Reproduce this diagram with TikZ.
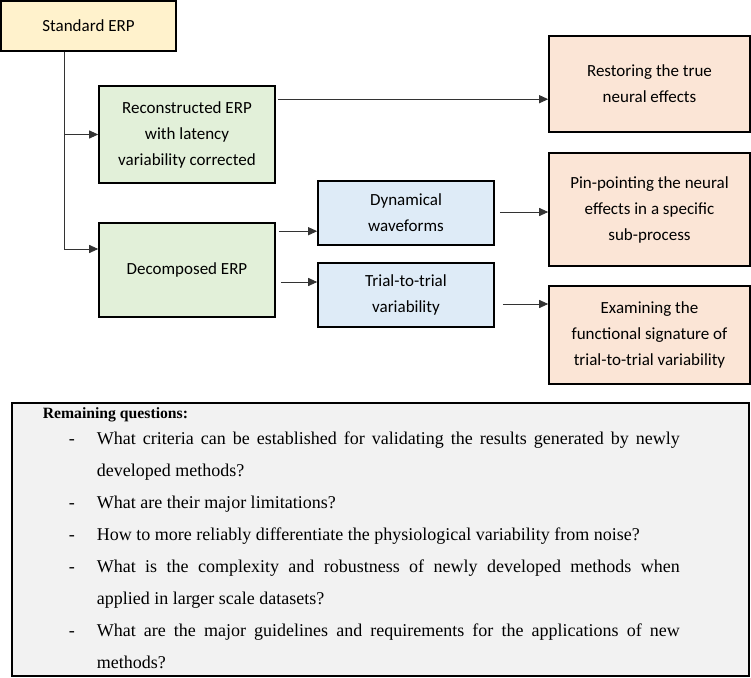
\documentclass[tikz,border=0pt]{standalone}
\usepackage{fontspec}
\setmainfont{Liberation Serif}
\newfontfamily\boxfont{Carlito}
\usetikzlibrary{arrows.meta}
\definecolor{stdfill}{HTML}{FFF2CC}
\definecolor{grnfill}{HTML}{E2F0D9}
\definecolor{blufill}{HTML}{DEEBF7}
\definecolor{orgfill}{HTML}{FBE5D6}
\definecolor{qfill}{HTML}{F2F2F2}
\newcommand{\qitem}[1]{\par\hangindent=54pt\hangafter=1\noindent\hspace*{26pt}\makebox[28pt][l]{-}#1}

\begin{document}
\begin{tikzpicture}[x=1pt, y=-1pt, every node/.style={draw, line width=1.6pt, align=center, inner sep=0pt, font=\boxfont\fontsize{17}{26}\selectfont},
    arr/.style={-{Triangle[length=9pt,width=8pt]}, line width=0.9pt, draw=black!80}]
        \useasboundingbox (0,0) rectangle (751,677);

        \node[fill=stdfill, minimum width=175, minimum height=50] (std) at (88.5,26) {Standard ERP};

        \node[fill=grnfill, minimum width=176, minimum height=97] (rec) at (187,134.5) {Reconstructed ERP\\with latency\\variability corrected};
        \node[fill=grnfill, minimum width=176, minimum height=94] (dec) at (187,270) {Decomposed ERP};

        \node[fill=blufill, minimum width=176, minimum height=64] (dyn) at (406,213) {Dynamical\\waveforms};
        \node[fill=blufill, minimum width=176, minimum height=64] (ttv) at (406,295) {Trial-to-trial\\variability};

        \node[fill=orgfill, minimum width=201, minimum height=96] (res) at (649.5,84) {Restoring the true\\neural effects};
        \node[fill=orgfill, minimum width=201, minimum height=113] (pin) at (649.5,209.5) {Pin-pointing the neural\\effects in a specific\\sub-process};
        \node[fill=orgfill, minimum width=201, minimum height=98] (exa) at (649.5,335) {Examining the\\functional signature of\\trial-to-trial variability};

        \node[fill=qfill, line width=1.3pt, minimum width=737, minimum height=273] (rq) at (380.5,539.5) {};
        \node[draw=none, anchor=base west, align=left, font=\fontsize{18}{31.9}\selectfont] (rqt) at (42,418) {\parbox[t]{637pt}{%
            \hyphenpenalty=10000 \exhyphenpenalty=10000
            {\fontsize{15.7}{27}\bfseries Remaining questions:}\par\vspace{-5pt}
            \qitem{What criteria can be established for validating the results generated by newly\linebreak developed methods?}
            \qitem{What are their major limitations?}
            \qitem{How to more reliably differentiate the physiological variability from noise?}
            \qitem{What is the complexity and robustness of newly developed methods when\linebreak applied in larger scale datasets?}
            \qitem{What are the major guidelines and requirements for the applications of new\linebreak methods?}}};

        \coordinate (tk) at (64,249);
        \draw[arr] (std.south -| tk) |- (rec.west);
        \draw[arr] (std.south -| tk) |- (dec.west |- tk);
        \draw[arr, shorten <=2pt] ([yshift=-14pt]rec.north east) coordinate (r1) -- (res.west |- r1);
        \draw[arr, shorten <=3pt] ([yshift=-9pt]dec.north east) coordinate (d1) -- (dyn.west |- d1);
        \draw[arr, shorten <=5pt] ([yshift=-12pt]dec.east) coordinate (d2) -- (ttv.west |- d2);
        \draw[arr, shorten <=5pt] ([yshift=1pt]dyn.east) coordinate (d3) -- (pin.west |- d3);
        \draw[arr, shorten <=8pt] ([yshift=-9pt]ttv.east) coordinate (d4) -- (exa.west |- d4);
    \end{tikzpicture}
\end{document}
